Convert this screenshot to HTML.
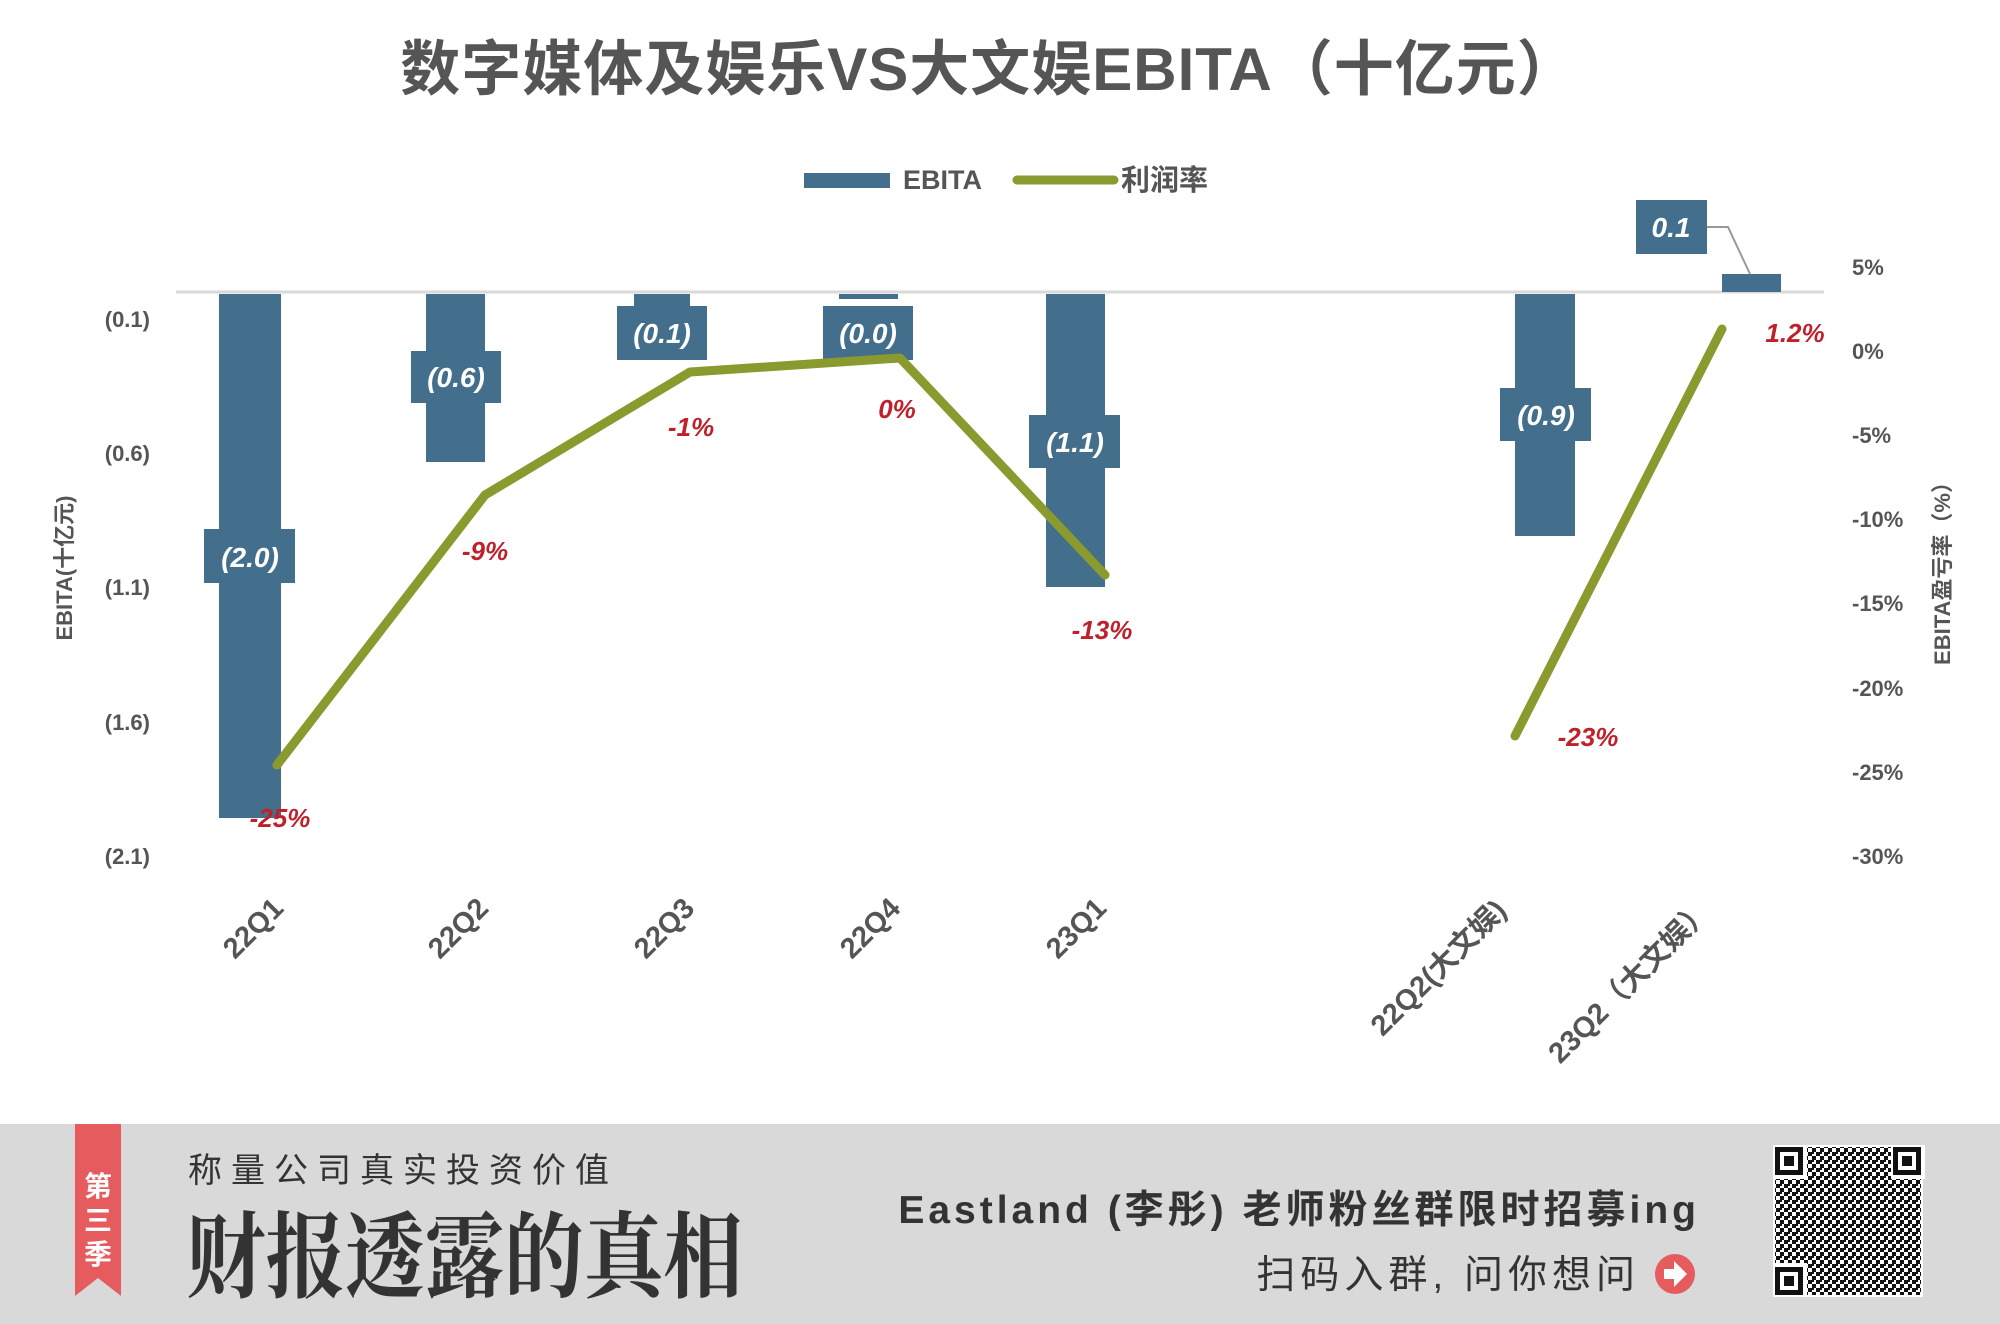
<!DOCTYPE html>
<html><head><meta charset="utf-8"><style>
html,body{margin:0;padding:0;width:2000px;height:1324px;overflow:hidden;background:#fff}
svg{display:block}
</style></head><body>
<svg width="2000" height="1324" viewBox="0 0 2000 1324" xmlns="http://www.w3.org/2000/svg" font-family="'Liberation Sans','Noto Sans CJK SC',sans-serif">
<text x="989" y="90" text-anchor="middle" font-size="60" fill="#555" font-weight="bold" letter-spacing="1">数字媒体及娱乐VS大文娱EBITA（十亿元）</text>
<rect x="804" y="173" width="86" height="15" fill="#436f8c"/>
<text x="903" y="189" font-size="27" font-weight="bold" fill="#555">EBITA</text>
<line x1="1017" y1="180" x2="1114" y2="180" stroke="#8a9a2e" stroke-width="9" stroke-linecap="round"/>
<text x="1121" y="190" font-size="29" font-weight="bold" fill="#555">利润率</text>
<line x1="176" y1="292" x2="1824" y2="292" stroke="#d9d9d9" stroke-width="3"/>
<g font-size="22" font-weight="bold" fill="#555" text-anchor="end">
<text x="150" y="327">(0.1)</text><text x="150" y="461">(0.6)</text><text x="150" y="595">(1.1)</text><text x="150" y="730">(1.6)</text><text x="150" y="864">(2.1)</text>
</g>
<g font-size="22" font-weight="bold" fill="#555">
<text x="1852" y="275">5%</text><text x="1852" y="359">0%</text><text x="1852" y="443">-5%</text><text x="1852" y="527">-10%</text><text x="1852" y="611">-15%</text><text x="1852" y="696">-20%</text><text x="1852" y="780">-25%</text><text x="1852" y="864">-30%</text>
</g>
<text transform="translate(72,568) rotate(-90)" text-anchor="middle" font-size="22" font-weight="bold" fill="#555">EBITA(十亿元)</text>
<text transform="translate(1950,568) rotate(-90)" text-anchor="middle" font-size="22" font-weight="bold" fill="#555">EBITA盈亏率（%）</text>
<g fill="#436f8c">
<rect x="219" y="294" width="62" height="524"/>
<rect x="426" y="294" width="59" height="168"/>
<rect x="634" y="294" width="56" height="12"/>
<rect x="839" y="294" width="59" height="5"/>
<rect x="1046" y="294" width="59" height="293"/>
<rect x="1515" y="294" width="60" height="242"/>
<rect x="1722" y="274" width="59" height="18"/>
<rect x="204" y="529" width="91" height="54"/>
<rect x="411" y="351" width="90" height="52"/>
<rect x="617" y="306" width="90" height="54"/>
<rect x="823" y="306" width="90" height="54"/>
<rect x="1029" y="415" width="91" height="53"/>
<rect x="1500" y="388" width="91" height="53"/>
<rect x="1636" y="200" width="71" height="54"/>
</g>
<polyline points="1707,227 1728,227 1750,274" fill="none" stroke="#999" stroke-width="2"/>
<g font-size="28" font-style="italic" font-weight="bold" fill="#fff" text-anchor="middle">
<text x="250" y="567">(2.0)</text><text x="456" y="387">(0.6)</text><text x="662" y="343">(0.1)</text><text x="868" y="343">(0.0)</text><text x="1075" y="452">(1.1)</text><text x="1546" y="425">(0.9)</text><text x="1671" y="237">0.1</text>
</g>
<polyline points="277,765 485,495 690,372 900,358 1105,575" fill="none" stroke="#8a9a2e" stroke-width="9" stroke-linejoin="round" stroke-linecap="round"/>
<line x1="1515" y1="736" x2="1722" y2="329" stroke="#8a9a2e" stroke-width="9" stroke-linecap="round"/>
<g font-size="26" font-style="italic" font-weight="bold" fill="#c0202a" text-anchor="middle">
<text x="280" y="827">-25%</text><text x="485" y="560">-9%</text><text x="691" y="436">-1%</text><text x="897" y="418">0%</text><text x="1102" y="639">-13%</text><text x="1588" y="746">-23%</text><text x="1795" y="342">1.2%</text>
</g>
<g font-size="29" font-weight="bold" fill="#555" text-anchor="end">
<text transform="translate(285,910) rotate(-45)">22Q1</text>
<text transform="translate(490,910) rotate(-45)">22Q2</text>
<text transform="translate(696,910) rotate(-45)">22Q3</text>
<text transform="translate(902,910) rotate(-45)">22Q4</text>
<text transform="translate(1108,910) rotate(-45)">23Q1</text>
<text transform="translate(1508,912) rotate(-45)">22Q2(大文娱)</text>
<text transform="translate(1713,912) rotate(-45)">23Q2（大文娱）</text>
</g>
<rect x="0" y="1124" width="2000" height="200" fill="#d9d9d9"/>
<polygon points="75,1124 121,1124 121,1296 98,1278 75,1296" fill="#e55b5e"/>
<g font-size="28" fill="#fff" text-anchor="middle" font-weight="bold"><text x="98" y="1196">第</text><text x="98" y="1230">三</text><text x="98" y="1264">季</text></g>
<text x="188" y="1182" font-size="34" fill="#333" letter-spacing="9">称量公司真实投资价值</text>
<text transform="translate(186,1290) scale(1.02,1.2)" font-size="78" font-weight="bold" fill="#333" font-family="'Noto Serif CJK SC',serif">财报透露的真相</text>
<text x="1700" y="1223" text-anchor="end" font-size="39" font-weight="bold" fill="#333" letter-spacing="4">Eastland (李彤) 老师粉丝群限时招募ing</text>
<text x="1640" y="1288" text-anchor="end" font-size="39" fill="#333" letter-spacing="5">扫码入群, 问你想问</text>
<circle cx="1675" cy="1274" r="20" fill="#e55b5e"/>
<polygon points="1664,1269 1674,1269 1674,1261 1687,1274 1674,1287 1674,1279 1664,1279" fill="#fff"/>
<rect x="1773" y="1145" width="150" height="152" fill="#fff"/>
<defs><pattern id="qr" width="8" height="8" patternUnits="userSpaceOnUse"><rect width="4" height="4" fill="#111"/><rect x="4" y="4" width="4" height="4" fill="#111"/><rect x="4" y="0" width="2" height="2" fill="#111"/></pattern></defs>
<rect x="1775" y="1147" width="146" height="148" fill="url(#qr)"/>
<g fill="#fff"><rect x="1773" y="1145" width="34" height="34"/><rect x="1891" y="1145" width="34" height="34"/><rect x="1773" y="1263" width="34" height="34"/></g>
<g fill="#111">
<rect x="1775" y="1147" width="28" height="28"/><rect x="1893" y="1147" width="28" height="28"/><rect x="1775" y="1267" width="28" height="28"/>
</g>
<g fill="#fff"><rect x="1780" y="1152" width="18" height="18"/><rect x="1898" y="1152" width="18" height="18"/><rect x="1780" y="1272" width="18" height="18"/></g>
<g fill="#111"><rect x="1784" y="1156" width="10" height="10"/><rect x="1902" y="1156" width="10" height="10"/><rect x="1784" y="1276" width="10" height="10"/></g>
</svg>
</body></html>
